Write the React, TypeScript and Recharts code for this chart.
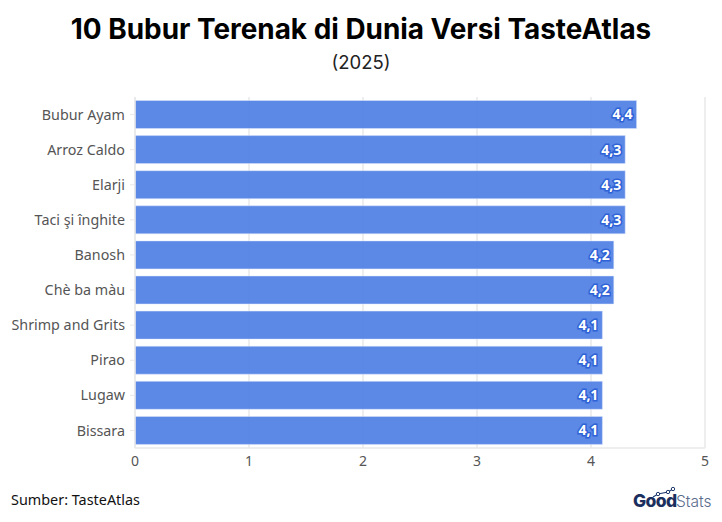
import { BarChart, Bar, XAxis, YAxis, CartesianGrid, LabelList } from 'recharts'

const categories = ['Bubur Ayam', 'Arroz Caldo', 'Elarji', 'Taci şi înghite', 'Banosh', 'Chè ba màu', 'Shrimp and Grits', 'Pirao', 'Lugaw', 'Bissara']
const ratings = [4.4, 4.3, 4.3, 4.3, 4.2, 4.2, 4.1, 4.1, 4.1, 4.1]
const xTicks = [0, 1, 2, 3, 4, 5]

const data = categories.map((name, i) => ({ name, rating: ratings[i] }))

const labelFont = '"Noto Sans", sans-serif'

function Logo() {
  return (
    <svg width={90} height={30} style={{ position: 'absolute', left: 630, top: 486 }}>
      <polyline points="23,11 28,8 38,6 43,3" fill="none" stroke="#1f3a6e" strokeWidth={1.1} />
      <circle cx={28} cy={8} r={1.7} fill="#fff" stroke="#1f3a6e" strokeWidth={1} />
      <circle cx={38} cy={6} r={1.7} fill="#fff" stroke="#1f3a6e" strokeWidth={1} />
      <circle cx={43} cy={3} r={1.7} fill="#fff" stroke="#1f3a6e" strokeWidth={1} />
      <text x={3} y={21} fontFamily="Inter, sans-serif" fontSize={17.5} fontWeight={800} fill="#1b2f5e" letterSpacing={-0.6}>Good</text>
      <text x={46} y={21} fontFamily="Inter, sans-serif" fontSize={15.5} fontWeight={300} fill="#5a6b8c">Stats</text>
    </svg>
  )
}

export default function App() {
  return (
    <div style={{ position: 'absolute', left: 0, top: 0, width: 722, height: 522, background: '#fff', overflow: 'hidden' }}>
      <div style={{ position: 'absolute', top: 12, width: 722, textAlign: 'center', fontFamily: 'Inter, sans-serif', fontWeight: 700, fontSize: 27.9, color: '#000', whiteSpace: 'nowrap' }}>
        10 Bubur Terenak di Dunia Versi TasteAtlas
      </div>
      <div style={{ position: 'absolute', top: 51, width: 722, textAlign: 'center', fontFamily: 'Inter, sans-serif', fontSize: 18.5, color: '#222' }}>
        (2025)
      </div>
      <div style={{ position: 'absolute', left: 0, top: 0 }}>
        <BarChart
          width={722}
          height={522}
          data={data}
          layout="vertical"
          barCategoryGap="10%"
          margin={{ top: 97, right: 17, bottom: 44, left: 0 }}
        >
          <CartesianGrid horizontal={false} stroke="#e8e8e8" strokeWidth={1.5} />
          <XAxis
            type="number"
            domain={[0, 5]}
            ticks={xTicks}
            height={30}
            axisLine={{ stroke: '#e8e8e8', strokeWidth: 1.5 }}
            tickLine={false}
            tick={{ fill: '#555', fontSize: 14, fontFamily: labelFont }}
          />
          <YAxis
            type="category"
            dataKey="name"
            width={135}
            interval={0}
            axisLine={{ stroke: '#e8e8e8', strokeWidth: 1.5 }}
            tickLine={{ stroke: '#e8e8e8' }}
            tickSize={5}
            tickMargin={5}
            tick={{ fill: '#555', fontSize: 14.3, fontFamily: labelFont }}
          />
          <Bar dataKey="rating" fill="#4a7be3" fillOpacity={0.9} stroke="#dce6fa" strokeWidth={0.5} isAnimationActive={false}>
            <LabelList
              dataKey="rating"
              position="insideRight"
              offset={4}
              formatter={(v: number) => v.toFixed(1).replace('.', ',')}
              fill="#fff"
              stroke="#2f62d6"
              strokeWidth={3}
              style={{ paintOrder: 'stroke', fontFamily: labelFont, fontSize: 14, fontWeight: 700 }}
            />
          </Bar>
        </BarChart>
      </div>
      <div style={{ position: 'absolute', left: 11, top: 490, fontFamily: labelFont, fontSize: 14.4, color: '#111' }}>
        Sumber: TasteAtlas
      </div>
      <Logo />
    </div>
  )
}
